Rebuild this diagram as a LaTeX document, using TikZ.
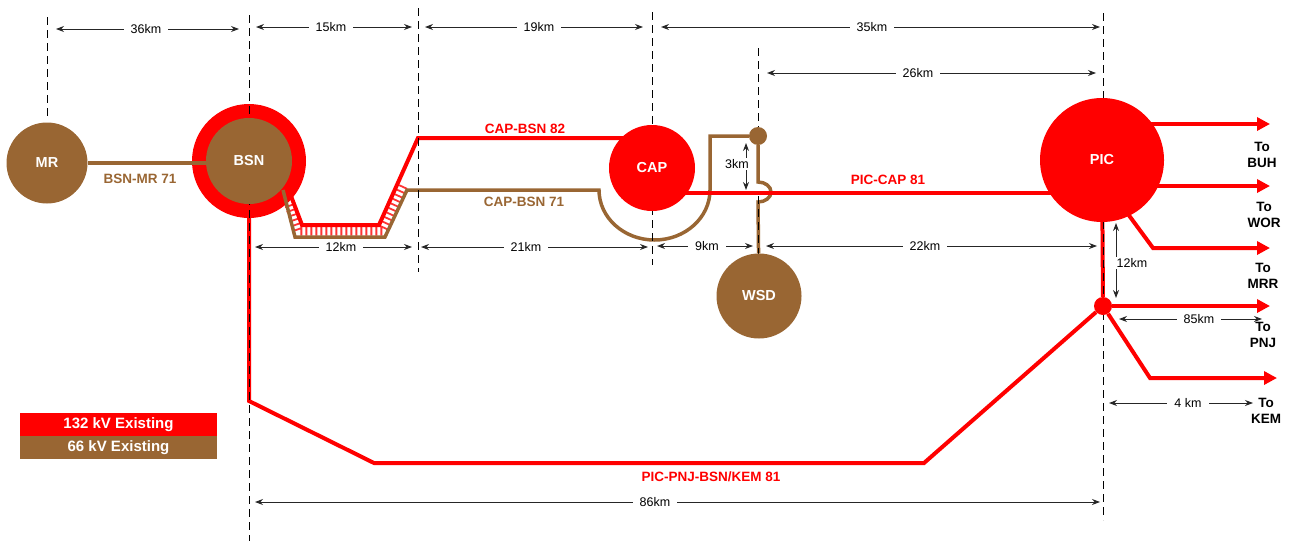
\documentclass[tikz,border=0pt]{standalone}
\usepackage{fontspec}
\setmainfont{Liberation Sans}
\usetikzlibrary{arrows.meta,calc}
\definecolor{brn}{RGB}{153,102,51}
\definecolor{rd}{RGB}{255,0,0}
\pgfdeclarelayer{bg}
\pgfdeclarelayer{mid}
\pgfsetlayers{bg,mid,main}
\begin{document}
\begin{tikzpicture}[x=1pt,y=-1pt,
  station/.style={circle, inner sep=0pt, text=white, font=\bfseries\fontsize{14.5}{14.5}\selectfont},
  hvst/.style={station, fill=rd},
  mvst/.style={station, fill=brn},
  dotnode/.style={circle, inner sep=0pt, minimum size=18},
  hv/.style={draw=rd, line width=4pt, line join=miter},
  mv/.style={draw=brn, line width=3.5pt},
  hatch/.style={draw=rd!80, line width=9pt, dash pattern=on 1.8pt off 3.2pt},
  guide/.style={draw=black, line width=1pt, dash pattern=on 8pt off 5pt},
  dim/.style={draw=black!85, line width=1pt, {Stealth[length=8pt,width=6pt]}-{Stealth[length=8pt,width=6pt]}},
  dimlbl/.style={fill=white, inner xsep=7pt, inner ysep=2pt, font=\fontsize{12.5}{12.5}\selectfont},
  hvlbl/.style={text=rd, font=\bfseries\fontsize{13.5}{13.5}\selectfont},
  mvlbl/.style={text=brn, font=\bfseries\fontsize{13.5}{13.5}\selectfont},
  outarrow/.style={draw=rd, line width=4pt, -{Triangle[length=13pt,width=13pt]}},
  dest/.style={align=center, inner sep=0pt, font=\bfseries\fontsize{13.5}{16.5}\selectfont},
  legend/.style={minimum width=197, minimum height=23, inner sep=0pt, text=white, font=\bfseries\fontsize{15}{15}\selectfont},
]
\useasboundingbox (0,0) rectangle (1289,541);

% stations
\node[mvst, minimum size=81] (MR) at (47,163) {MR};
\node[mvst, minimum size=86] (BSN) at (249,161) {BSN};
\node[hvst, minimum size=86] (CAP) at (652,168) {CAP};
\node[hvst, minimum size=124] (PIC) at (1102,160) {PIC};
\node[mvst, minimum size=85] (WSD) at (759,296) {WSD};
\node[dotnode, fill=brn] (J1) at (758,136) {};
\node[dotnode, fill=rd] (J2) at (1103,306) {};
\coordinate (k82) at (418,138);

\begin{pgfonlayer}{bg}
  \node[circle, fill=rd, inner sep=0pt, minimum size=114] (BSNr) at (BSN) {};
  \draw[hatch] (289,205) -- (298,231) -- (383,231) -- (404,185);
  % 66 kV
  \draw[mv] (MR) -- (MR -| BSN);
  \draw[mv] ($(BSN)+(34,29)$) -- (295,237) -- (385,237) -- (407,190) -- (599,190)
     arc[start angle=180, end angle=360, x radius=55.5pt, y radius=50pt] -- (710,136) -- (J1);
  \draw[mv] (J1) -- (758,182) arc[start angle=90, end angle=-90, x radius=13pt, y radius=10pt] -- (WSD);
  % 132 kV
  \draw[hv] ($(BSN)+(42,35)$) -- (302,225) -- (379,225) -- (k82) -- (k82 -| CAP);
  \draw[hv] ($(CAP)+(0,25)$) -- ($(PIC)+(0,33)$);
  \draw[hv] (BSN) -- (249,401) -- (374,463) -- (924,463) -- (J2);
  \draw[hv] (PIC) -- (J2);
  \draw[outarrow] ($(PIC)+(0,-36)$) -- (1270,124);
  \draw[outarrow] ($(PIC)+(0,26)$) -- (1270,186);
  \draw[outarrow] ($(PIC)+(23,50)$) -- (1153,248) -- (1270,248);
  \draw[outarrow] (J2) -- (1270,306);
  \draw[outarrow] (J2) -- (1150,378) -- (1277,378);
\end{pgfonlayer}

\begin{pgfonlayer}{mid}
  \draw[guide] (47,17) -- (47,120);
  \draw[guide] (249,15) -- (249,541);
  \draw[guide] (418,8) -- (418,272);
  \draw[guide] (652,12) -- (652,265);
  \draw[guide] (758,48) -- (758,136);
  \draw[guide] (758,196) -- (758,255);
  \draw[guide] (1103,13) -- (1103,520);
\end{pgfonlayer}

% line labels
\node[mvlbl] (lBM) at (140,179) {BSN-MR 71};
\node[hvlbl] (l82) at (525,129) {CAP-BSN 82};
\node[mvlbl] (l71) at (524,202) {CAP-BSN 71};
\node[hvlbl] (l81) at (888,180) {PIC-CAP 81};
\node[hvlbl] (lK) at (711,477) {PIC-PNJ-BSN/KEM 81};

% destinations
\node[dest] (dBUH) at (1262,155) {To\\BUH};
\node[dest] (dWOR) at (1264,215) {To\\WOR};
\node[dest] (dMRR) at (1263,276) {To\\MRR};
\node[dest] (dPNJ) at (1263,335) {To\\PNJ};
\node[dest] (dKEM) at (1266,411) {To\\KEM};

% dimensions
\draw[dim] (56,29) -- (239,29);   \node[dimlbl] at (146,29) {36km};
\draw[dim] (256,27) -- (412,27);  \node[dimlbl] at (331,27) {15km};
\draw[dim] (425,27) -- (643,27);  \node[dimlbl] at (539,27) {19km};
\draw[dim] (661,27) -- (1100,27); \node[dimlbl] at (872,27) {35km};
\draw[dim] (767,73) -- (1096,73); \node[dimlbl] at (918,73) {26km};
\draw[dim] (255,247) -- (412,247); \node[dimlbl] at (341,247) {12km};
\draw[dim] (421,247) -- (648,247); \node[dimlbl] at (526,247) {21km};
\draw[dim] (657,246) -- (753,246); \node[dimlbl] at (707,246) {9km};
\draw[dim] (766,246) -- (1097,246); \node[dimlbl] at (925,246) {22km};
\draw[dim] (746,143) -- (746,190); \node[dimlbl, inner sep=1pt] at (737,164) {3km};
\draw[dim] (1116,223) -- (1116,298); \node[dimlbl, inner sep=1pt] at (1132,263) {12km};
\draw[dim] (1119,319) -- (1262,319); \node[dimlbl] at (1199,319) {85km};
\draw[dim] (1109,403) -- (1253,403); \node[dimlbl] at (1188,403) {4 km};
\draw[dim] (255,502) -- (1100,502); \node[dimlbl] at (655,502) {86km};

% legend
\node[legend, fill=rd] (L1) at (118.5,424.5) {132 kV Existing};
\node[legend, fill=brn] (L2) at (118.5,447.5) {66 kV Existing};
\end{tikzpicture}
\end{document}
